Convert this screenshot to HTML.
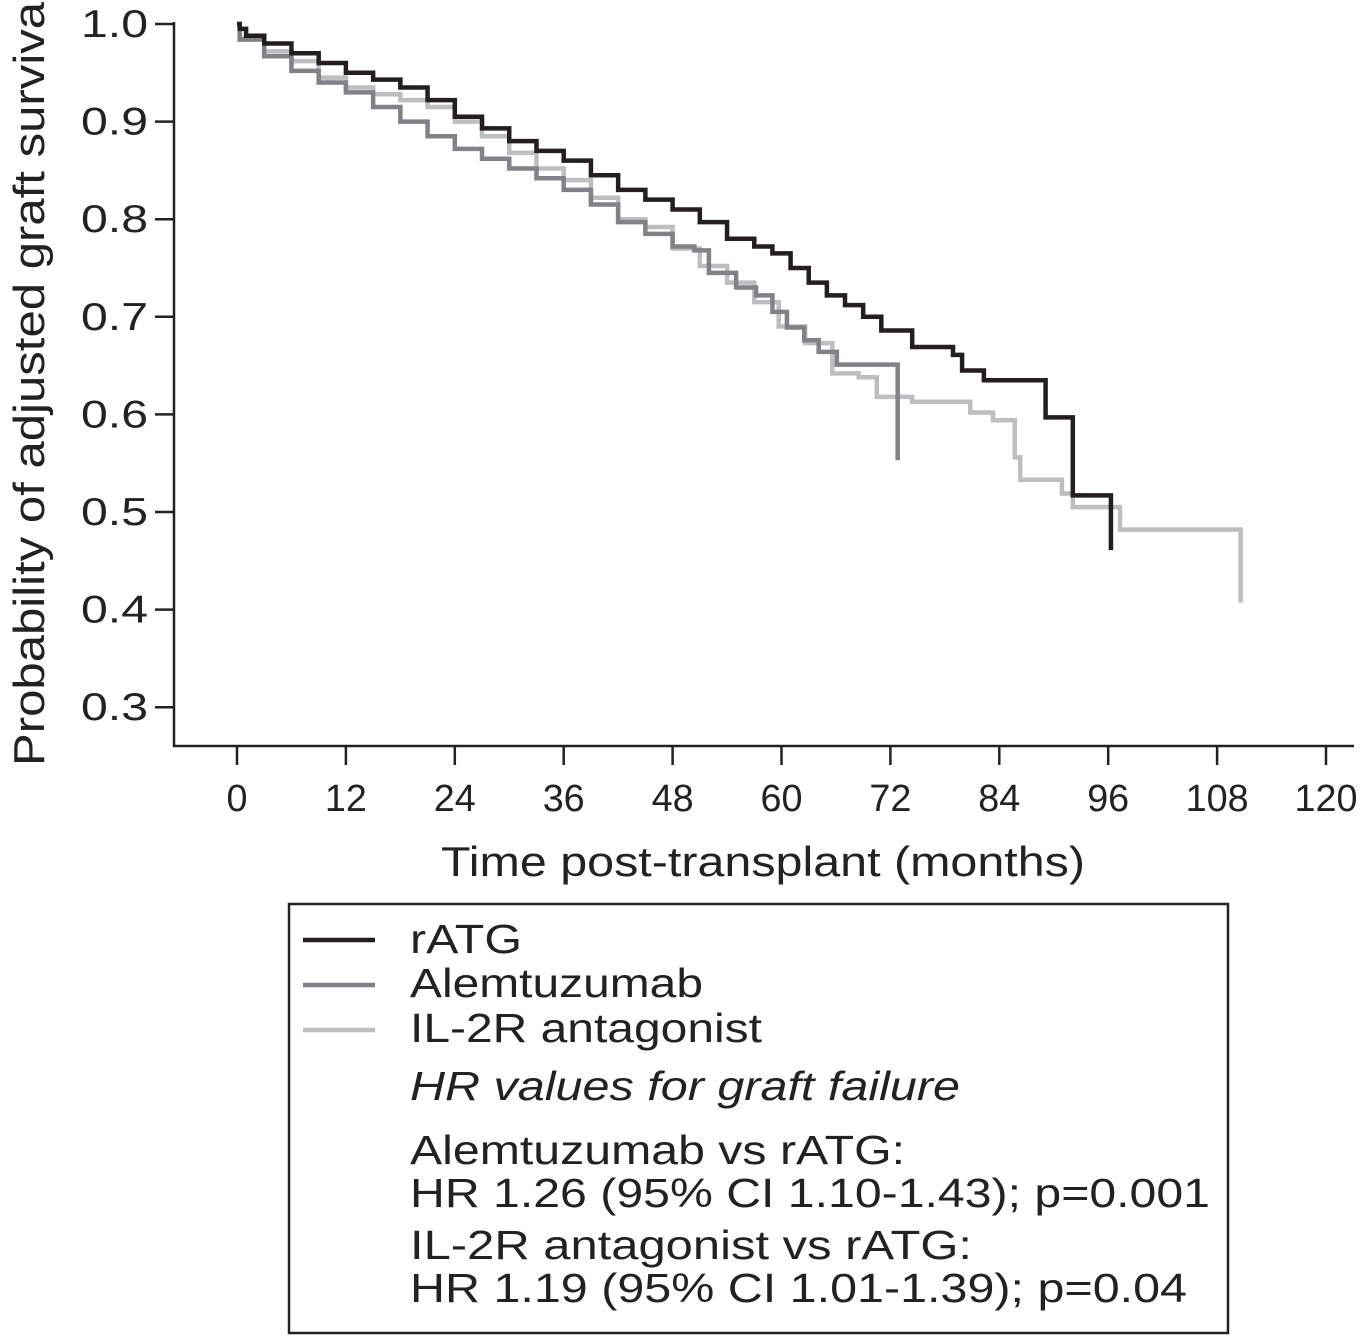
<!DOCTYPE html>
<html><head><meta charset="utf-8"><style>
body{margin:0;background:#fff}
svg{display:block;font-family:"Liberation Sans",Arial,sans-serif}
</style></head><body>
<svg id="chart" width="1361" height="1339" viewBox="0 0 1361 1339" xmlns="http://www.w3.org/2000/svg">
<g id="axes"></g>
<g id="series"></g>
<text x="441" y="876" font-size="42" textLength="644" lengthAdjust="spacingAndGlyphs" fill="#222">Time post-transplant (months)</text>
<text transform="translate(44,766) rotate(-90)" font-size="44" textLength="775" lengthAdjust="spacingAndGlyphs" fill="#222">Probability of adjusted graft survival</text>
<g>
<rect x="289" y="904" width="939" height="429" fill="none" stroke="#222" stroke-width="2.5"/>
<line x1="303" y1="940" x2="375" y2="940" stroke="#231f20" stroke-width="4.5"/>
<text x="410" y="953" font-size="41" textLength="112" lengthAdjust="spacingAndGlyphs" fill="#222">rATG</text>
<line x1="303" y1="985" x2="375" y2="985" stroke="#808285" stroke-width="4.5"/>
<text x="410" y="997" font-size="41" textLength="293" lengthAdjust="spacingAndGlyphs" fill="#222">Alemtuzumab</text>
<line x1="303" y1="1030" x2="375" y2="1030" stroke="#bcbec0" stroke-width="4.5"/>
<text x="410" y="1042" font-size="41" textLength="352" lengthAdjust="spacingAndGlyphs" fill="#222">IL-2R antagonist</text>
<text x="410" y="1100" font-size="41" font-style="italic" textLength="550" lengthAdjust="spacingAndGlyphs" fill="#222">HR values for graft failure</text>
<text x="410" y="1164" font-size="41" textLength="495" lengthAdjust="spacingAndGlyphs" fill="#222">Alemtuzumab vs rATG:</text>
<text x="410" y="1207" font-size="41" textLength="800" lengthAdjust="spacingAndGlyphs" fill="#222">HR 1.26 (95% CI 1.10-1.43); p=0.001</text>
<text x="410" y="1259" font-size="41" textLength="562" lengthAdjust="spacingAndGlyphs" fill="#222">IL-2R antagonist vs rATG:</text>
<text x="410" y="1302" font-size="41" textLength="777" lengthAdjust="spacingAndGlyphs" fill="#222">HR 1.19 (95% CI 1.01-1.39); p=0.04</text>
</g>
</svg>
<script>
const xTicks=[0,12,24,36,48,60,72,84,96,108,120];
const yTicks=[0.3,0.4,0.5,0.6,0.7,0.8,0.9,1.0];
const ratgT=[0,0.3,1,3,6,9,12,15,18,21,24,27,30,33,36,39,42,45,48,51,54,57,59,61,63,65,67,69,71,74.4,78.9,79.9,82.3,89.1,92.1,96.3];
const ratgS=[1.0,0.995,0.988,0.980,0.970,0.960,0.950,0.943,0.935,0.922,0.905,0.893,0.880,0.870,0.860,0.845,0.830,0.820,0.810,0.797,0.780,0.772,0.765,0.750,0.735,0.722,0.712,0.700,0.686,0.669,0.661,0.645,0.635,0.597,0.517,0.461];
const alemT=[0,0.3,3,6,9,12,15,18,21,24,27,30,33,36,39,42,45,48,50.4,52,55,57.2,59,60.6,62.5,64.1,66.1,72.8];
const alemS=[1.0,0.984,0.967,0.952,0.940,0.930,0.915,0.900,0.885,0.872,0.862,0.852,0.842,0.830,0.815,0.797,0.785,0.772,0.768,0.745,0.730,0.722,0.705,0.689,0.676,0.664,0.651,0.553];
const il2rT=[0,0.3,3,6,9,12,15,18,21,24,27,30,33,36,39,42,45,48,51,54,57,59.7,62.6,65.6,68.5,70.5,74.4,80.8,83.3,85.7,86.3,90.9,92.1,97.3,110.6];
const il2rS=[1.0,0.985,0.972,0.962,0.945,0.935,0.928,0.922,0.915,0.900,0.885,0.868,0.852,0.840,0.822,0.800,0.792,0.770,0.752,0.735,0.715,0.690,0.673,0.642,0.638,0.618,0.613,0.602,0.594,0.556,0.533,0.519,0.505,0.482,0.407];

const NS='http://www.w3.org/2000/svg';
const xs=m=>237+m*(1089/120);
const ys=s=>24+(1-s)*976;
const axes=document.getElementById('axes');
function mk(tag,attrs,parent){const e=document.createElementNS(NS,tag);for(const k in attrs)e.setAttribute(k,attrs[k]);parent.appendChild(e);return e;}
let yl=mk('line',{x1:174,y1:22,x2:174,y2:747,stroke:'#222','stroke-width':2.5},axes);


let xl=mk('line',{x1:173,y1:746,x2:1354,y2:746,stroke:'#222','stroke-width':2.5},axes);


xTicks.forEach(t=>{
  const tk=mk('line',{x1:xs(t),y1:746,x2:xs(t),y2:765,stroke:'#222','stroke-width':2.5},axes);
  
  
  const s=String(t);
  const tx=mk('text',{x:xs(t),y:811,'font-size':38,'text-anchor':'middle',textLength:s.length*21,lengthAdjust:'spacingAndGlyphs',fill:'#222'},axes);
  tx.textContent=s;
  
  
});
yTicks.forEach(t=>{
  const tk=mk('line',{x1:155,y1:ys(t),x2:174,y2:ys(t),stroke:'#222','stroke-width':2.5},axes);
  
  
  const tx=mk('text',{x:148,y:ys(t)+13,'font-size':39,'text-anchor':'end',textLength:67,lengthAdjust:'spacingAndGlyphs',fill:'#222'},axes);
  tx.textContent=t.toFixed(1);
  
  
});
const ser=document.getElementById('series');
function step(T,S,color,name){
  let d='M'+xs(T[0])+' '+ys(S[0]);
  for(let i=1;i<T.length;i++){d+=' H'+xs(T[i])+' V'+ys(S[i]);}
  const p=mk('path',{d:d,fill:'none',stroke:color,'stroke-width':4.5},ser);
  
  
}
step(il2rT,il2rS,'#bcbec0','il2r-curve');
step(alemT,alemS,'#808285','alemtuzumab-curve');
step(ratgT,ratgS,'#231f20','ratg-curve');
</script>
</body></html>
